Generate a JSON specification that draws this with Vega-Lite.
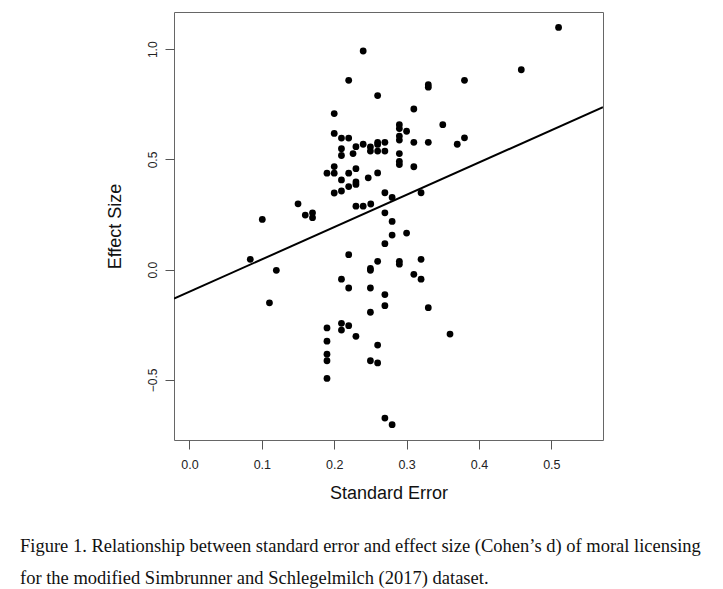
{
  "$schema": "https://vega.github.io/schema/vega-lite/v6.json",
  "width": 429,
  "height": 428,
  "autosize": "none",
  "padding": {"left": 174, "top": 12, "right": 120, "bottom": 149},
  "background": "white",
  "config": {
    "view": {"stroke": "#666666", "strokeWidth": 1},
    "axis": {
      "domain": false,
      "grid": false,
      "tickSize": 9,
      "tickColor": "#555555",
      "labelFont": "Liberation Sans",
      "labelColor": "#222222",
      "titleFont": "Liberation Sans",
      "titleFontWeight": "normal",
      "titleColor": "#111111"
    }
  },
  "title": {
    "text": [
      "Figure 1. Relationship between standard error and effect size (Cohen’s d) of moral licensing",
      "for the modified Simbrunner and Schlegelmilch (2017) dataset."
    ],
    "orient": "bottom",
    "anchor": "start",
    "frame": "group",
    "dx": -154,
    "offset": 34,
    "font": "Liberation Serif",
    "fontSize": 18.5,
    "fontWeight": "normal",
    "color": "#111111",
    "lineHeight": 32,
    "baseline": "top"
  },
  "layer": [
    {
      "data": {
        "values": [
          {"se": 0.510, "d": 1.099}, {"se": 0.4585, "d": 0.907}, {"se": 0.380, "d": 0.859},
          {"se": 0.330, "d": 0.839}, {"se": 0.330, "d": 0.828}, {"se": 0.310, "d": 0.729},
          {"se": 0.350, "d": 0.658}, {"se": 0.290, "d": 0.658}, {"se": 0.290, "d": 0.640},
          {"se": 0.300, "d": 0.628}, {"se": 0.290, "d": 0.606}, {"se": 0.290, "d": 0.588},
          {"se": 0.310, "d": 0.578}, {"se": 0.330, "d": 0.578}, {"se": 0.370, "d": 0.569},
          {"se": 0.380, "d": 0.598}, {"se": 0.290, "d": 0.527}, {"se": 0.290, "d": 0.491},
          {"se": 0.290, "d": 0.477}, {"se": 0.310, "d": 0.467}, {"se": 0.320, "d": 0.349},
          {"se": 0.270, "d": 0.349}, {"se": 0.280, "d": 0.328}, {"se": 0.270, "d": 0.258},
          {"se": 0.280, "d": 0.219}, {"se": 0.280, "d": 0.157}, {"se": 0.300, "d": 0.166},
          {"se": 0.270, "d": 0.118}, {"se": 0.290, "d": 0.038}, {"se": 0.290, "d": 0.025},
          {"se": 0.320, "d": 0.047}, {"se": 0.310, "d": -0.021}, {"se": 0.320, "d": -0.043},
          {"se": 0.270, "d": -0.113}, {"se": 0.270, "d": -0.163}, {"se": 0.330, "d": -0.172},
          {"se": 0.360, "d": -0.292}, {"se": 0.270, "d": -0.673}, {"se": 0.280, "d": -0.703},
          {"se": 0.240, "d": 0.992}, {"se": 0.220, "d": 0.859}, {"se": 0.260, "d": 0.790},
          {"se": 0.200, "d": 0.708}, {"se": 0.200, "d": 0.618}, {"se": 0.210, "d": 0.597},
          {"se": 0.220, "d": 0.597}, {"se": 0.230, "d": 0.558}, {"se": 0.210, "d": 0.549},
          {"se": 0.210, "d": 0.518}, {"se": 0.226, "d": 0.527}, {"se": 0.240, "d": 0.569},
          {"se": 0.250, "d": 0.557}, {"se": 0.250, "d": 0.538}, {"se": 0.260, "d": 0.578},
          {"se": 0.260, "d": 0.568}, {"se": 0.260, "d": 0.538}, {"se": 0.270, "d": 0.578},
          {"se": 0.270, "d": 0.538}, {"se": 0.200, "d": 0.468}, {"se": 0.190, "d": 0.438},
          {"se": 0.200, "d": 0.438}, {"se": 0.220, "d": 0.438}, {"se": 0.230, "d": 0.458},
          {"se": 0.210, "d": 0.407}, {"se": 0.260, "d": 0.439}, {"se": 0.247, "d": 0.417},
          {"se": 0.230, "d": 0.398}, {"se": 0.230, "d": 0.387}, {"se": 0.220, "d": 0.377},
          {"se": 0.210, "d": 0.357}, {"se": 0.200, "d": 0.348}, {"se": 0.230, "d": 0.288},
          {"se": 0.240, "d": 0.288}, {"se": 0.2505, "d": 0.298}, {"se": 0.150, "d": 0.299},
          {"se": 0.160, "d": 0.248}, {"se": 0.170, "d": 0.258}, {"se": 0.170, "d": 0.236},
          {"se": 0.1006, "d": 0.228}, {"se": 0.084, "d": 0.047}, {"se": 0.120, "d": -0.003},
          {"se": 0.1105, "d": -0.150}, {"se": 0.220, "d": 0.068}, {"se": 0.210, "d": -0.043},
          {"se": 0.220, "d": -0.083}, {"se": 0.250, "d": -0.083}, {"se": 0.250, "d": 0.006},
          {"se": 0.250, "d": -0.003}, {"se": 0.260, "d": 0.038}, {"se": 0.250, "d": -0.193},
          {"se": 0.190, "d": -0.264}, {"se": 0.210, "d": -0.243}, {"se": 0.220, "d": -0.254},
          {"se": 0.210, "d": -0.274}, {"se": 0.230, "d": -0.302}, {"se": 0.260, "d": -0.342},
          {"se": 0.190, "d": -0.324}, {"se": 0.190, "d": -0.383}, {"se": 0.190, "d": -0.413},
          {"se": 0.190, "d": -0.493}, {"se": 0.250, "d": -0.413}, {"se": 0.260, "d": -0.423}
        ]
      },
      "mark": {"type": "circle", "color": "black", "opacity": 1, "size": 46},
      "encoding": {
        "x": {
          "field": "se", "type": "quantitative",
          "scale": {"domain": [-0.0214, 0.5714], "nice": false, "zero": false},
          "axis": {
            "title": "Standard Error", "values": [0, 0.1, 0.2, 0.3, 0.4, 0.5], "format": ".1f",
            "labelFontSize": 12.5, "labelPadding": 9, "titleFontSize": 18, "titlePadding": 14
          }
        },
        "y": {
          "field": "d", "type": "quantitative",
          "scale": {"domain": [-0.7724, 1.1689], "nice": false, "zero": false},
          "axis": {
            "title": "Effect Size", "values": [-0.5, 0, 0.5, 1], "format": ".1f",
            "labelAngle": -90, "labelAlign": "center", "labelBaseline": "bottom",
            "labelFontSize": 12, "labelPadding": 6, "titleFontSize": 18, "titlePadding": 22
          }
        }
      }
    },
    {
      "data": {
        "values": [
          {"se": -0.0214, "d": -0.131},
          {"se": 0.5714, "d": 0.737}
        ]
      },
      "mark": {"type": "line", "color": "black", "strokeWidth": 2, "clip": true},
      "encoding": {
        "x": {"field": "se", "type": "quantitative"},
        "y": {"field": "d", "type": "quantitative"}
      }
    }
  ]
}
